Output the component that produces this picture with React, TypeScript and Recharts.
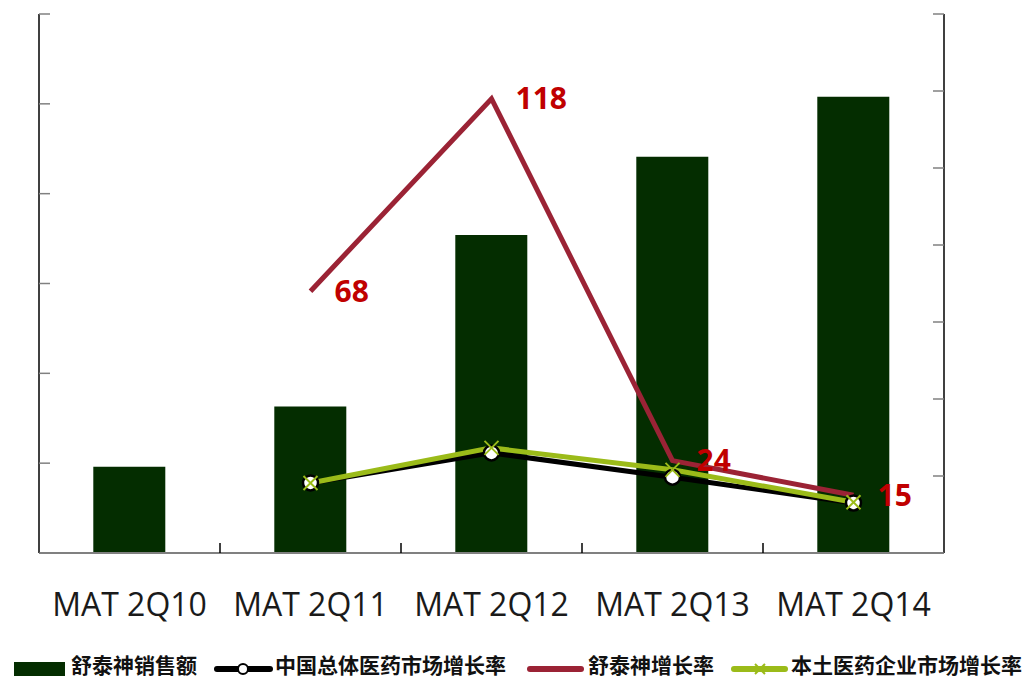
import React from 'react';
import { ComposedChart, Bar, Line, XAxis, YAxis, LabelList } from 'recharts';

const categories = ['MAT 2Q10', 'MAT 2Q11', 'MAT 2Q12', 'MAT 2Q13', 'MAT 2Q14'];
const salesValues = [96, 163, 354, 441, 508];
const chinaMarketGrowth: (number | null)[] = [null, 18.2, 26, 19.7, 13];
const stsGrowth: (number | null)[] = [null, 68, 118, 24, 15];
const localPharmaGrowth: (number | null)[] = [null, 18.2, 27.3, 21.6, 13.2];
const leftTicks = [0, 100, 200, 300, 400, 500, 600];
const rightTicks = [0, 20, 40, 60, 80, 100, 120, 140];

const seriesNames = ['舒泰神销售额', '中国总体医药市场增长率', '舒泰神增长率', '本土医药企业市场增长率'];

const BAR_COLOR = '#042d00';
const BLACK = '#000000';
const MAROON = '#9b2335';
const GREEN = '#9bbb19';
const LABEL_RED = '#c00000';

const X_TICK_SIZE = 6;
const X_TICK_MARGIN = 34;

const data = categories.map((c, i) => ({
  name: c,
  sales: salesValues[i],
  china: chinaMarketGrowth[i],
  sts: stsGrowth[i],
  local: localPharmaGrowth[i],
}));

const EmptyTick = () => <g />;

// Category tick: label plus a separator tick mark between categories (Excel style)
const CategoryTick = (props: any) => {
  const { x, y, payload, index, width, visibleTicksCount } = props;
  const count = visibleTicksCount || categories.length;
  const half = width / count / 2;
  const axisY = y - X_TICK_SIZE - X_TICK_MARGIN;
  return (
    <g>
      {index < count - 1 && (
        <line x1={x + half} y1={axisY} x2={x + half} y2={axisY - 10} stroke="#000" strokeWidth={1.5} />
      )}
      <text
        x={x}
        y={y}
        dy="0.71em"
        textAnchor="middle"
        fill="#1a1a1a"
        fontSize={32}
        fontFamily='"Open Sans", sans-serif'
      >
        {payload.value}
      </text>
    </g>
  );
};

const CircleDot = (props: any) => {
  const { cx, cy } = props;
  if (cx == null || cy == null) return <g />;
  return <circle cx={cx} cy={cy} r={7.5} fill="#fff" stroke={BLACK} strokeWidth={2.5} />;
};

const CrossDot = (props: any) => {
  const { cx, cy } = props;
  if (cx == null || cy == null) return <g />;
  const s = 7;
  return (
    <g stroke={GREEN} strokeWidth={2}>
      <line x1={cx - s} y1={cy - s} x2={cx + s} y2={cy + s} />
      <line x1={cx - s} y1={cy + s} x2={cx + s} y2={cy - s} />
    </g>
  );
};

const legendText: React.CSSProperties = {
  position: 'absolute',
  top: 654,
  fontFamily: '"Noto Sans CJK SC", sans-serif',
  fontWeight: 700,
  fontSize: 21,
  lineHeight: '20px',
  color: '#111',
  whiteSpace: 'nowrap',
};

export default function App() {
  return (
    <div style={{ position: 'absolute', left: 0, top: 0, width: 1025, height: 679, background: '#fff' }}>
      <ComposedChart
        width={1025}
        height={679}
        data={data}
        margin={{ top: 14, right: 0, bottom: 56, left: 0 }}
        barCategoryGap="30%"
      >
        <XAxis
          dataKey="name"
          height={70}
          axisLine={{ stroke: '#808080', strokeWidth: 2 }}
          tickLine={false}
          tickSize={X_TICK_SIZE}
          tickMargin={X_TICK_MARGIN}
          interval={0}
          tick={<CategoryTick />}
        />
        <YAxis
          yAxisId="l"
          width={39}
          domain={[0, 600]}
          ticks={leftTicks}
          axisLine={{ stroke: '#000', strokeWidth: 1.5 }}
          tickLine={{ stroke: '#808080', strokeWidth: 1.5 }}
          tickSize={-11}
          tick={EmptyTick}
        />
        <YAxis
          yAxisId="r"
          orientation="right"
          width={81}
          domain={[0, 140]}
          ticks={rightTicks}
          axisLine={{ stroke: '#000', strokeWidth: 1.5 }}
          tickLine={{ stroke: '#808080', strokeWidth: 1.5 }}
          tickSize={-11}
          tick={EmptyTick}
        />
        <Bar yAxisId="l" dataKey="sales" name={seriesNames[0]} fill={BAR_COLOR} isAnimationActive={false} />
        <Line
          yAxisId="r"
          dataKey="china"
          name={seriesNames[1]}
          stroke={BLACK}
          strokeWidth={5}
          dot={<CircleDot />}
          activeDot={false}
          isAnimationActive={false}
        />
        <Line
          yAxisId="r"
          dataKey="sts"
          name={seriesNames[2]}
          stroke={MAROON}
          strokeWidth={5}
          dot={false}
          activeDot={false}
          isAnimationActive={false}
        >
          <LabelList
            dataKey="sts"
            position="right"
            offset={24}
            fill={LABEL_RED}
            style={{ fontSize: 30, fontWeight: 700, fontFamily: '"Open Sans", sans-serif' }}
          />
        </Line>
        <Line
          yAxisId="r"
          dataKey="local"
          name={seriesNames[3]}
          stroke={GREEN}
          strokeWidth={5}
          dot={<CrossDot />}
          activeDot={false}
          isAnimationActive={false}
        />
      </ComposedChart>

      {/* Legend */}
      <svg style={{ position: 'absolute', left: 0, top: 655 }} width={1025} height={24}>
        <rect x={14} y={7} width={51} height={14} fill={BAR_COLOR} />
        <line x1={217} y1={14} x2={270} y2={14} stroke={BLACK} strokeWidth={6} strokeLinecap="round" />
        <circle cx={243} cy={14} r={5} fill="#fff" stroke={BLACK} strokeWidth={2} />
        <line x1={530} y1={14} x2={581} y2={14} stroke={MAROON} strokeWidth={6} strokeLinecap="round" />
        <line x1={734} y1={14} x2={785} y2={14} stroke={GREEN} strokeWidth={6} strokeLinecap="round" />
        <g stroke={GREEN} strokeWidth={2}>
          <line x1={755} y1={9} x2={765} y2={19} />
          <line x1={755} y1={19} x2={765} y2={9} />
        </g>
      </svg>
      <div style={{ ...legendText, left: 71 }}>{seriesNames[0]}</div>
      <div style={{ ...legendText, left: 275 }}>{seriesNames[1]}</div>
      <div style={{ ...legendText, left: 588 }}>{seriesNames[2]}</div>
      <div style={{ ...legendText, left: 791 }}>{seriesNames[3]}</div>
    </div>
  );
}
